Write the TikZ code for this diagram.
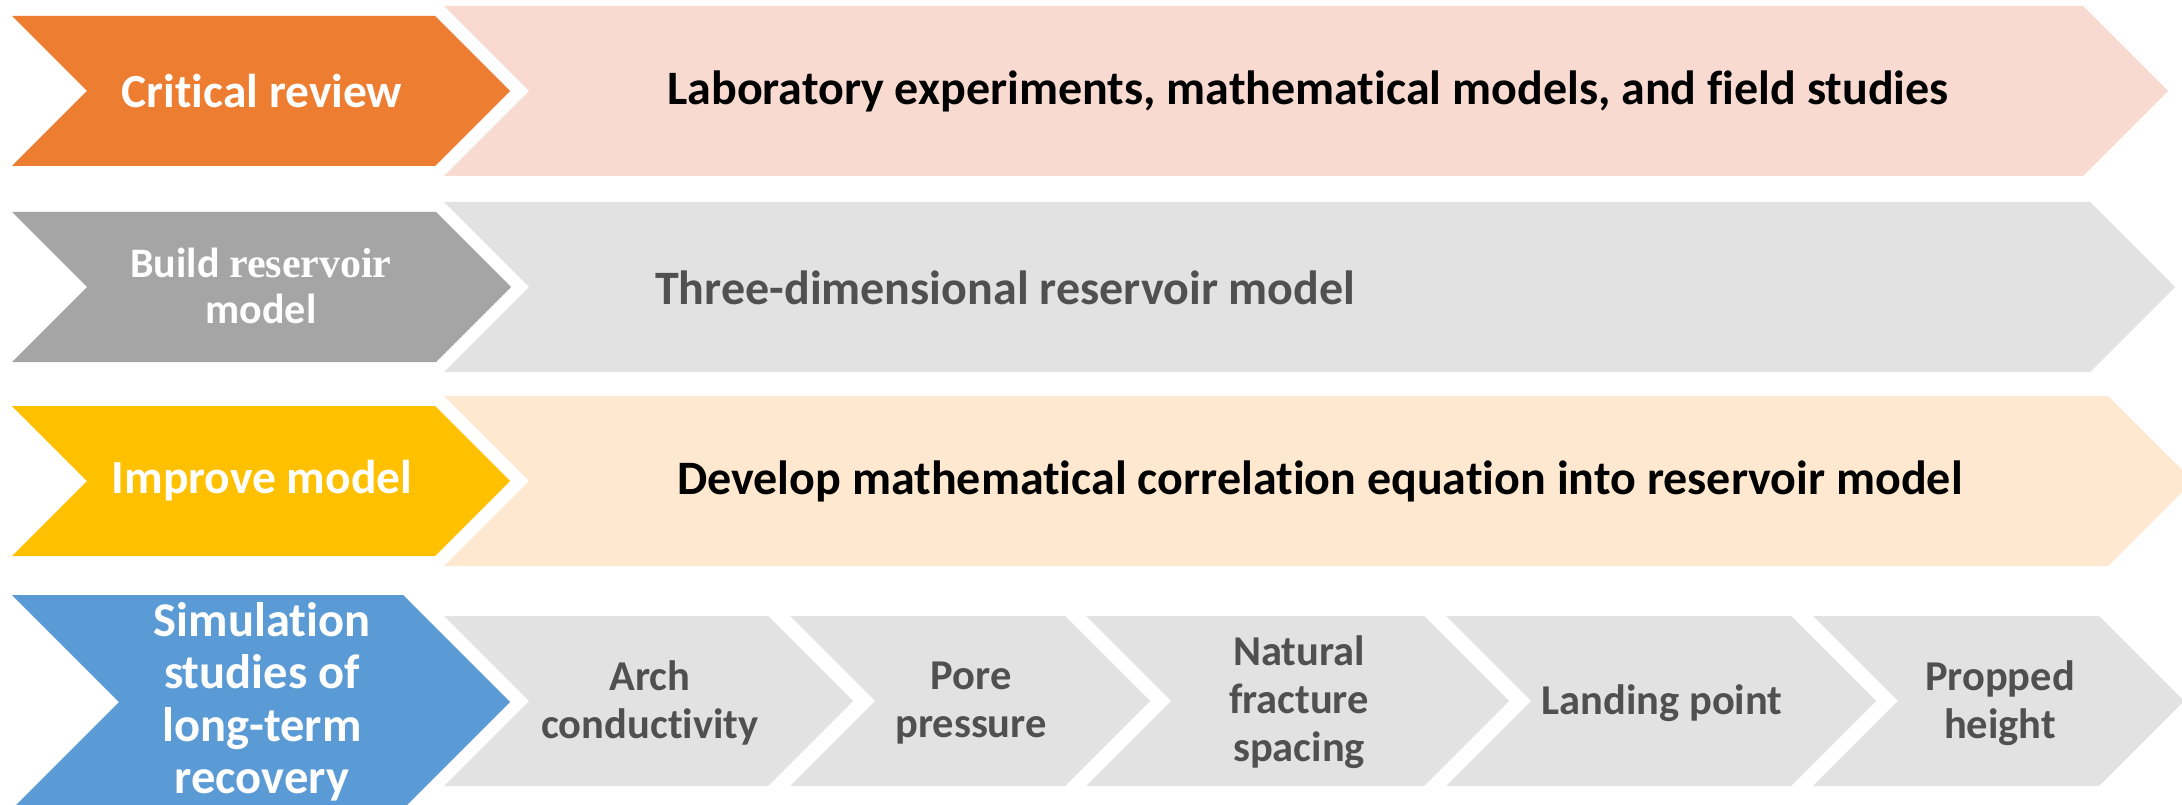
\documentclass[tikz,border=0pt]{standalone}
\usepackage{fontspec}
\setmainfont{Carlito}[Ligatures=NoCommon]
\newfontfamily\timesbold{Liberation Serif}
\definecolor{c-orange}{HTML}{ED7D31}
\definecolor{c-pink}{HTML}{F8DAD1}
\definecolor{c-dgray}{HTML}{A5A5A5}
\definecolor{c-lgray}{HTML}{E2E2E2}
\definecolor{c-gold}{HTML}{FFC000}
\definecolor{c-peach}{HTML}{FEE9D0}
\definecolor{c-blue}{HTML}{5B9BD5}
\definecolor{c-text}{HTML}{505050}
% chevron: fill, left x, corner x, mid y, half height, point depth
\newcommand\chevshape[6]{%
  \fill[#1] (#2,#4-#5) -- (#3,#4-#5) -- (#3+#6,#4) -- (#3,#4+#5)
    -- (#2,#4+#5) -- (#2+#6,#4) -- cycle;}
\tikzset{
  headtxt/.style={text=white, font=\fontsize{47.5}{52}\selectfont\bfseries,
    align=center, inner sep=0pt},
  bodytxt/.style={text=black, font=\fontsize{48}{52}\selectfont\bfseries,
    align=center, inner sep=0pt},
  smalltxt/.style={text=c-text, font=\fontsize{42.5}{48}\selectfont\bfseries,
    align=center, inner sep=0pt},
}
\begin{document}
\begin{tikzpicture}[x=1pt,y=-1pt]
\useasboundingbox (0,0) rectangle (2182,805);
\fill[white] (0,0) rectangle (2182,805);

% row 1
\chevshape{c-pink}{444}{2083}{91}{85}{85}
\chevshape{c-orange}{12}{435}{91}{75}{75}
\node[headtxt] (critical) at (262,91) {Critical review};
\node[bodytxt] (lab) at (1308,91) {Laboratory experiments, mathematical models, and field studies};

% row 2
\chevshape{c-lgray}{444}{2090}{287}{85}{85}
\chevshape{c-dgray}{12}{436}{287}{75}{75}
\node[headtxt, font=\fontsize{42}{46}\selectfont\bfseries] (build) at (261,286)
  {Build {\timesbold reservoir}\\model};
\node[bodytxt, text=c-text, anchor=west] (threed) at (655,288) {Three-dimensional reservoir model};

% row 3
\chevshape{c-peach}{444}{2108}{481}{85}{85}
\chevshape{c-gold}{12}{435}{481}{75}{75}
\node[headtxt] (improve) at (262,481) {Improve model};
\node[bodytxt] (develop) at (1320,481) {Develop mathematical correlation equation into reservoir model};

% row 4
\chevshape{c-blue}{12}{403}{702}{107}{107}
\node[headtxt, font=\fontsize{48.5}{52.5}\selectfont\bfseries] (sim) at (262,702)
  {Simulation\\studies of\\long-term\\recovery};
\chevshape{c-lgray}{444}{768}{701}{85}{85}
\chevshape{c-lgray}{790}{1065}{701}{85}{85}
\chevshape{c-lgray}{1086}{1424}{701}{85}{85}
\chevshape{c-lgray}{1446}{1791}{701}{85}{85}
\chevshape{c-lgray}{1813}{2099}{701}{85}{85}
\node[smalltxt] (arch) at (650,703) {Arch\\conductivity};
\node[smalltxt] (pore) at (971,703) {Pore\\pressure};
\node[smalltxt] (natural) at (1299,702) {Natural\\fracture\\spacing};
\node[smalltxt] (landing) at (1662,703) {Landing point};
\node[smalltxt] (propped) at (2000,703) {Propped\\height};
\end{tikzpicture}
\end{document}
